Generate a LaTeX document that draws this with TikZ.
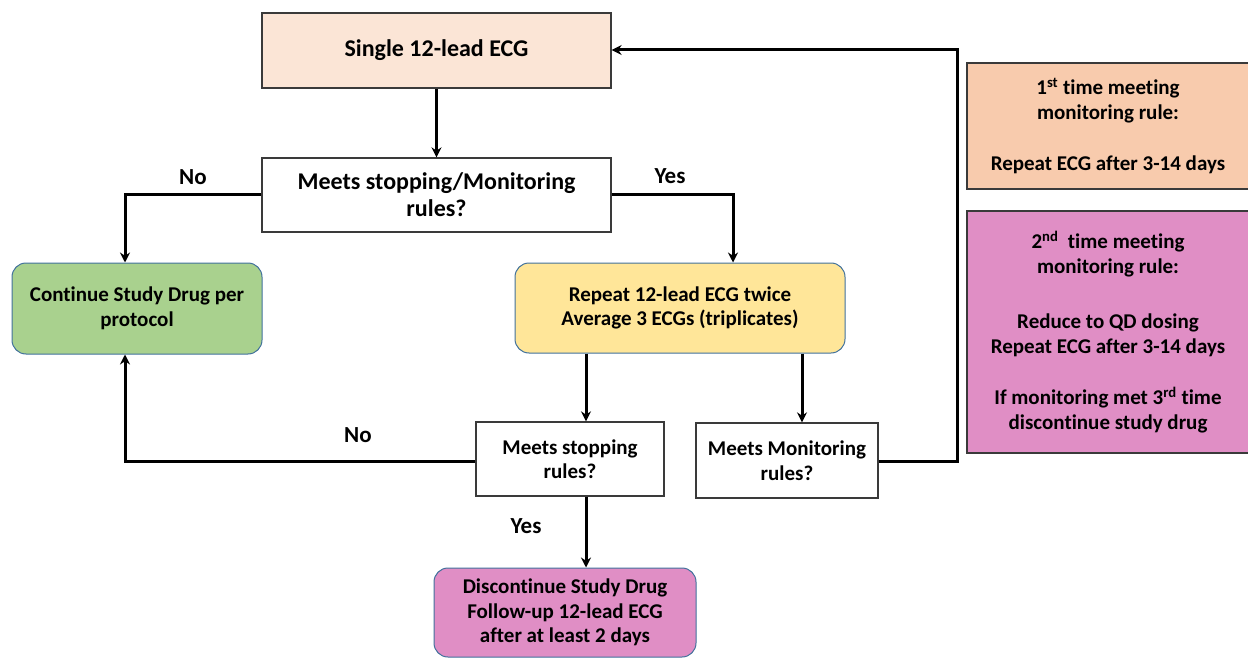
\documentclass[tikz,border=0pt]{standalone}
\usepackage{fontspec}
\setmainfont{Carlito}[Ligatures={NoCommon}]
\usetikzlibrary{arrows.meta}
\definecolor{peach}{HTML}{FBE5D6}
\definecolor{greenf}{HTML}{A9D18E}
\definecolor{yellowf}{HTML}{FFE699}
\definecolor{pinkf}{HTML}{E08EC5}
\definecolor{orangef}{HTML}{F8CBAD}
\definecolor{blueb}{HTML}{41719C}
\definecolor{grayb}{HTML}{3A3A3A}
\tikzset{
  sq/.style={draw=grayb, line width=1.3pt, align=center, inner sep=0pt, font=\bfseries\fontsize{21}{24.5}\selectfont},
  rnd/.style={draw=blueb, line width=1pt, rounded corners=14pt, align=center, inner sep=0pt, font=\bfseries\fontsize{21}{24.5}\selectfont},
  side/.style={draw=grayb, line width=1.3pt, align=center, inner sep=0pt, font=\bfseries\fontsize{21}{25}\selectfont},
  conn/.style={line width=3pt, -{Stealth[length=10pt,width=10pt]}},
  lbl/.style={font=\bfseries\fontsize{23}{27}\selectfont}
}
\begin{document}
\begin{tikzpicture}[x=1pt,y=-1pt]
\useasboundingbox (0,0) rectangle (1248,658);
% nodes
\node[sq, fill=peach, minimum width=349pt, minimum height=75pt, font=\bfseries\fontsize{24}{28}\selectfont] (single) at (436.5,50.5) {Single 12-lead ECG};
\node[sq, fill=white, minimum width=349pt, minimum height=74pt, font=\bfseries\fontsize{24}{27}\selectfont] (meets) at (436.5,195) {Meets stopping/Monitoring\\rules?};
\node[rnd, fill=greenf, minimum width=250pt, minimum height=91pt] (cont) at (137,308.5) {Continue Study Drug per\\protocol};
\node[rnd, fill=yellowf, minimum width=330pt, minimum height=90pt] (rep) at (680,308) {Repeat 12-lead ECG twice\\Average 3 ECGs (triplicates)};
\node[sq, fill=white, minimum width=188pt, minimum height=74pt] (stop) at (570,459) {Meets stopping\\rules?};
\node[sq, fill=white, minimum width=182pt, minimum height=75pt] (mon) at (787,460.5) {Meets Monitoring\\rules?};
\node[rnd, fill=pinkf, minimum width=262pt, minimum height=89pt] (disc) at (565,612.5) {Discontinue Study Drug\\Follow-up 12-lead ECG\\after at least 2 days};
\node[side, fill=orangef, minimum width=282pt, minimum height=126pt] (first) at (1108,126) {1\textsuperscript{st} time meeting\\monitoring rule:\\[26pt]Repeat ECG after 3-14 days};
\node[side, fill=pinkf, minimum width=282pt, minimum height=242pt] (second) at (1108,332) {2\textsuperscript{nd}\ \ time meeting\\monitoring rule:\\[30pt]Reduce to QD dosing\\Repeat ECG after 3-14 days\\[26pt]If monitoring met 3\textsuperscript{rd} time\\discontinue study drug};
% coordinates
\coordinate (c1) at (125,194);
\coordinate (c2) at (733,194);
\coordinate (c3) at (125,461);
\coordinate (c4) at (957,461);
\coordinate (c5) at (957,50);
% connectors
\draw[conn] (single.south) -- (meets.north);
\draw[conn] (meets.west |- c1) -- (c1) -- (cont.north -| c1);
\draw[conn] (meets.east |- c2) -- (c2) -- (rep.north -| c2);
\draw[conn] ([xshift=16pt]rep.south -| stop.north) -- ([xshift=16pt]stop.north);
\draw[conn] ([xshift=15pt]rep.south -| mon.north) -- ([xshift=15pt]mon.north);
\draw[conn] (stop.west |- c3) -- (c3) -- (cont.south -| c3);
\draw[conn] ([xshift=16pt]stop.south) -- ([xshift=16pt]stop.south |- disc.north);
\draw[conn] (mon.east |- c4) -- (c4) -- (c5) -- (single.east |- c5);
% labels
\node[lbl] (lno1) at (193,177) {No};
\node[lbl] (lyes1) at (670,176) {Yes};
\node[lbl] (lno2) at (358,435) {No};
\node[lbl] (lyes2) at (526,526) {Yes};
\end{tikzpicture}
\end{document}
